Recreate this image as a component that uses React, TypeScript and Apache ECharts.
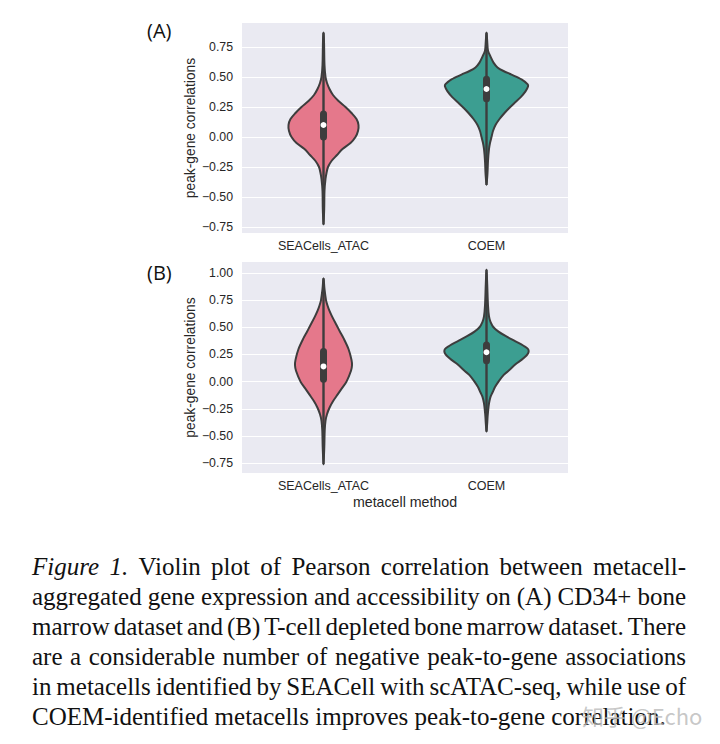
import React, { useEffect, useRef } from 'react';
import * as echarts from 'echarts';

const CATEGORIES = ['SEACells_ATAC', 'COEM'];
const TICKS_A = [-0.75, -0.5, -0.25, 0, 0.25, 0.5, 0.75];
const TICKS_B = [-0.75, -0.5, -0.25, 0, 0.25, 0.5, 0.75, 1.0];

// Violin density profiles (y value, relative density)
const A_SEA_Y = [0.87, 0.8, 0.6, 0.5, 0.45, 0.4, 0.35, 0.3, 0.25, 0.2, 0.15, 0.1, 0.05, 0.0, -0.05, -0.1, -0.15, -0.2, -0.25, -0.3, -0.35, -0.45, -0.6, -0.73];
const A_SEA_D = [0, 0.5, 1, 2, 3.5, 6, 9.5, 15, 22, 28, 33, 35, 34.5, 32, 27, 19, 13.5, 8, 4.5, 3, 2, 1, 0.7, 0];
const A_COEM_Y = [0.87, 0.8, 0.72, 0.67, 0.62, 0.58, 0.55, 0.52, 0.48, 0.44, 0.42, 0.38, 0.33, 0.28, 0.24, 0.2, 0.15, 0.1, 0.05, 0.0, -0.05, -0.1, -0.2, -0.3, -0.4];
const A_COEM_D = [0, 0.7, 1.5, 4, 7, 11, 17, 25, 35, 41, 41.5, 39, 34, 27.5, 22.5, 18, 13, 9, 6.5, 5, 3.5, 2.5, 1.5, 1, 0];
const B_SEA_Y = [0.95, 0.85, 0.75, 0.7, 0.65, 0.6, 0.52, 0.45, 0.4, 0.3, 0.2, 0.15, 0.1, 0.0, -0.06, -0.12, -0.18, -0.24, -0.3, -0.36, -0.45, -0.6, -0.76];
const B_SEA_D = [0, 1, 2.5, 4, 6, 8.5, 13, 17, 20, 25, 28, 28.5, 27.5, 23, 18.5, 14, 9.5, 6, 3.5, 2, 1.2, 0.8, 0];
const B_COEM_Y = [1.03, 0.9, 0.7, 0.6, 0.55, 0.5, 0.46, 0.42, 0.37, 0.33, 0.3, 0.27, 0.24, 0.2, 0.16, 0.1, 0.06, 0.0, -0.05, -0.1, -0.14, -0.2, -0.3, -0.46];
const B_COEM_D = [0, 0.7, 1.5, 2.5, 4, 7, 12, 19, 29, 37, 41.5, 42, 40, 35, 29, 22, 17, 12, 8.5, 6, 4, 2.5, 1.3, 0];

// Box stats: [category index, median, q1, q3, low, high]
const A_BOX = [
  [0, 0.10, -0.03, 0.22, -0.73, 0.87],
  [1, 0.40, 0.29, 0.51, -0.40, 0.87],
];
const B_BOX = [
  [0, 0.14, -0.01, 0.31, -0.76, 0.95],
  [1, 0.27, 0.16, 0.37, -0.46, 1.03],
];

const CAPTION_LINES = [
  'Figure 1. Violin plot of Pearson correlation between metacell-',
  'aggregated gene expression and accessibility on (A) CD34+ bone',
  'marrow dataset and (B) T-cell depleted bone marrow dataset. There',
  'are a considerable number of negative peak-to-gene associations',
  'in metacells identified by SEACell with scATAC-seq, while use of',
  'COEM-identified metacells improves peak-to-gene correlation.',
];

const COLORS = ['#e5788b', '#3c9e91'];
const EDGE = '#3d3d3d';
const WIDTH_SCALE = 1 / 163;
const SANS = '"Liberation Sans", Arial, sans-serif';
const SERIF = '"Liberation Serif", "Times New Roman", serif';

function makeRender(profiles: { ys: number[]; ds: number[] }[]) {
  return (params: any, api: any) => {
    const idx = params.dataIndex;
    const cat = api.value(0);
    const cx = api.coord([cat, 0])[0];
    const band = api.size([1, 0])[0];
    const { ys, ds } = profiles[idx];
    const py = (v: number) => api.coord([cat, v])[1];
    const right = ys.map((y, i) => [cx + ds[i] * WIDTH_SCALE * band, py(y)]);
    const left = ys
      .slice(1, ys.length - 1)
      .map((y, i) => [cx - ds[i + 1] * WIDTH_SCALE * band, py(y)])
      .reverse();
    const pts = right.concat(left);
    const medY = py(api.value(1));
    const q1Y = py(api.value(2));
    const q3Y = py(api.value(3));
    const lowY = py(api.value(4));
    const highY = py(api.value(5));
    return {
      type: 'group',
      children: [
        {
          type: 'polygon',
          shape: { points: pts, smooth: 0.3 },
          style: { fill: COLORS[idx], stroke: EDGE, lineWidth: 2 },
        },
        {
          type: 'line',
          shape: { x1: cx, y1: lowY, x2: cx, y2: highY },
          style: { stroke: EDGE, lineWidth: 2.4 },
        },
        {
          type: 'rect',
          shape: { x: cx - 3.5, y: q3Y, width: 7, height: q1Y - q3Y, r: 3.5 },
          style: { fill: EDGE },
        },
        {
          type: 'circle',
          shape: { cx, cy: medY, r: 3 },
          style: { fill: '#ffffff' },
        },
      ],
    };
  };
}

function fmt(v: number) {
  const s = v.toFixed(2);
  return s.replace('-', '\u2212');
}

function buildCaption(): any[] {
  const canvas = document.createElement('canvas');
  const ctx = canvas.getContext('2d')!;
  const size = 25;
  const normal = `${size}px ${SERIF}`;
  const italic = `italic ${size}px ${SERIF}`;
  const x0 = 32;
  const x1 = 686;
  const els: any[] = [];
  CAPTION_LINES.forEach((line, li) => {
    const words = line.split(' ');
    const fonts = words.map((w, wi) => (li === 0 && wi < 2 ? italic : normal));
    const widths = words.map((w, wi) => {
      ctx.font = fonts[wi];
      return ctx.measureText(w).width;
    });
    ctx.font = normal;
    const spaceW = ctx.measureText(' ').width;
    const total = widths.reduce((a, b) => a + b, 0);
    const isLast = li === CAPTION_LINES.length - 1;
    const gap = isLast ? spaceW : (x1 - x0 - total) / (words.length - 1);
    let x = x0;
    const y = 566.5 + li * 30;
    words.forEach((w, wi) => {
      els.push({
        type: 'text',
        x,
        y,
        style: {
          text: w,
          font: fonts[wi],
          fill: '#111111',
          verticalAlign: 'middle',
          align: 'left',
        },
      });
      x += widths[wi] + gap;
    });
  });
  return els;
}

export default function App() {
  const ref = useRef<HTMLDivElement>(null);
  useEffect(() => {
    if (!ref.current) return;
    const chart = echarts.init(ref.current, undefined, { renderer: 'svg' });
    const profilesA = [
      { ys: A_SEA_Y, ds: A_SEA_D },
      { ys: A_COEM_Y, ds: A_COEM_D },
    ];
    const profilesB = [
      { ys: B_SEA_Y, ds: B_SEA_D },
      { ys: B_COEM_Y, ds: B_COEM_D },
    ];
    const yAxisBase = (min: number, max: number, ticks: number[], gi: number) => ({
      type: 'value',
      gridIndex: gi,
      min,
      max,
      name: 'peak-gene correlations',
      nameLocation: 'middle',
      nameRotate: 90,
      nameGap: 45,
      nameTextStyle: { fontFamily: SANS, fontSize: 13.8, color: '#262626' },
      axisLine: { show: false },
      axisTick: { show: false, customValues: ticks },
      axisLabel: {
        customValues: ticks,
        formatter: (v: number) => fmt(v),
        fontFamily: SANS,
        fontSize: 12.3,
        color: '#262626',
        margin: 9,
      },
      splitLine: { show: true, lineStyle: { color: '#ffffff', width: 1.2 } },
    });
    const xAxisBase = (gi: number, withName: boolean) => ({
      type: 'category',
      gridIndex: gi,
      data: CATEGORIES,
      axisLine: { show: false },
      axisTick: { show: false },
      splitLine: { show: false },
      axisLabel: { fontFamily: SANS, fontSize: 12.5, color: '#262626', margin: 6.5 },
      name: withName ? 'metacell method' : '',
      nameLocation: 'middle',
      nameGap: 22,
      nameTextStyle: { fontFamily: SANS, fontSize: 14.2, color: '#262626' },
    });
    chart.setOption({
      animation: false,
      backgroundColor: '#ffffff',
      grid: [
        { left: 242, top: 23, width: 326, height: 210, show: true, backgroundColor: '#eaeaf2', borderWidth: 0 },
        { left: 242, top: 262, width: 326, height: 211, show: true, backgroundColor: '#eaeaf2', borderWidth: 0 },
      ],
      xAxis: [xAxisBase(0, false), xAxisBase(1, true)],
      yAxis: [yAxisBase(-0.8, 0.95, TICKS_A, 0), yAxisBase(-0.84, 1.1, TICKS_B, 1)],
      series: [
        {
          type: 'custom',
          xAxisIndex: 0,
          yAxisIndex: 0,
          clip: false,
          data: A_BOX,
          encode: { x: 0, y: 1 },
          renderItem: makeRender(profilesA),
        },
        {
          type: 'custom',
          xAxisIndex: 1,
          yAxisIndex: 1,
          clip: false,
          data: B_BOX,
          encode: { x: 0, y: 1 },
          renderItem: makeRender(profilesB),
        },
      ],
      graphic: [
        {
          type: 'text',
          x: 147,
          y: 30,
          style: { text: '(A)', font: `20px "Open Sans", "Noto Sans", sans-serif`, fill: '#111', verticalAlign: 'middle' },
        },
        {
          type: 'text',
          x: 147,
          y: 272,
          style: { text: '(B)', font: `20px "Open Sans", "Noto Sans", sans-serif`, fill: '#111', verticalAlign: 'middle' },
        },
        ...buildCaption(),
        {
          type: 'text',
          x: 582,
          y: 715,
          z: 100,
          style: {
            text: '知乎 @Echo',
            font: `22px "Noto Sans CJK SC", sans-serif`,
            fill: 'rgba(185,185,185,0.8)',
            verticalAlign: 'middle',
          },
        },
      ],
    });
    return () => chart.dispose();
  }, []);
  return (
    <div
      ref={ref}
      style={{ position: 'fixed', left: 0, top: 0, width: 720, height: 744 }}
    />
  );
}
